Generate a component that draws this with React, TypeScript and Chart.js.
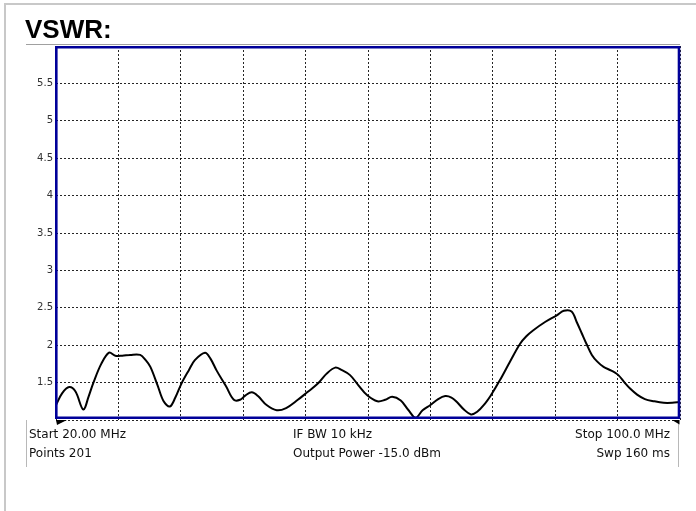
import React, { useEffect, useRef } from "react";
import { Chart, registerables } from "chart.js";

Chart.register(...registerables);

const freqMHz = [
  20.0, 20.8, 21.7, 22.5, 23.5, 24.2, 24.8, 25.8, 26.8, 27.6, 28.5, 29.5, 30.8, 31.5, 32.1, 33.0,
  33.8, 34.6, 35.3, 36.1, 37.0, 37.8, 39.1, 39.8, 40.6, 41.8, 42.8, 43.6, 44.3, 45.1, 45.9, 47.0,
  48.3, 49.5, 51.0, 52.2, 53.5, 54.7, 55.8, 56.6, 57.7, 58.8, 59.9, 61.2, 62.2, 63.1, 64.2, 65.2,
  66.1, 67.0, 68.0, 69.0, 69.9, 70.7, 71.4, 72.3, 73.2, 74.0, 75.0, 75.7, 76.9, 78.2, 79.5, 80.3,
  81.2, 82.7, 84.2, 85.1, 86.1, 86.8, 87.4, 88.0, 88.7, 89.4, 90.2, 91.2, 92.1, 92.9, 93.6, 94.5,
  95.5, 96.7, 97.9, 99.0, 100.0,
];

const vswr = [
  1.2, 1.36, 1.44, 1.38, 1.14, 1.32, 1.5, 1.75, 1.9, 1.86, 1.86, 1.87, 1.87, 1.8, 1.71, 1.47,
  1.25, 1.18, 1.3, 1.49, 1.66, 1.8, 1.9, 1.82, 1.66, 1.45, 1.27, 1.27, 1.33, 1.37, 1.32, 1.2,
  1.13, 1.16, 1.27, 1.37, 1.48, 1.62, 1.7, 1.67, 1.6, 1.46, 1.33, 1.25, 1.27, 1.31, 1.26, 1.13,
  1.03, 1.13, 1.2, 1.28, 1.32, 1.3, 1.24, 1.14, 1.075, 1.11, 1.22, 1.32, 1.53, 1.78, 2.02, 2.12,
  2.2, 2.31, 2.4, 2.46, 2.45, 2.3, 2.16, 2.02, 1.87, 1.78, 1.71, 1.66, 1.6, 1.5, 1.42, 1.34,
  1.28, 1.25, 1.23, 1.23, 1.24,
];

const titleText = "VSWR:";
const infoLeft = ["Start 20.00 MHz", "Points 201"];
const infoMid = ["IF BW 10 kHz", "Output Power -15.0 dBm"];
const infoRight = ["Stop 100.0 MHz", "Swp 160 ms"];

const decorPlugin = {
  id: "decor",
  beforeDraw(chart: any) {
    const ctx = chart.ctx;
    const a = chart.chartArea;
    ctx.save();
    ctx.fillStyle = "#ffffff";
    ctx.fillRect(0, 0, chart.width, chart.height);
    // outer frame
    ctx.strokeStyle = "#c8c8c8";
    ctx.lineWidth = 2;
    ctx.beginPath();
    ctx.moveTo(5, 511);
    ctx.lineTo(5, 4);
    ctx.lineTo(696, 4);
    ctx.stroke();
    // title
    ctx.fillStyle = "#000";
    ctx.font = "bold 26px 'Liberation Sans', Arial, sans-serif";
    ctx.textBaseline = "alphabetic";
    ctx.textAlign = "left";
    ctx.fillText(titleText, 25, 38);
    // underline
    ctx.strokeStyle = "#a0a0a0";
    ctx.lineWidth = 1;
    ctx.beginPath();
    ctx.moveTo(26, 44.5);
    ctx.lineTo(a.right, 44.5);
    ctx.stroke();
    // info box sides
    ctx.strokeStyle = "#b8b8b8";
    ctx.lineWidth = 1;
    ctx.beginPath();
    ctx.moveTo(26.5, a.bottom);
    ctx.lineTo(26.5, 467);
    ctx.moveTo(678.5, a.bottom);
    ctx.lineTo(678.5, 467);
    ctx.stroke();
    ctx.restore();
  },
  afterDraw(chart: any) {
    const ctx = chart.ctx;
    const a = chart.chartArea;
    ctx.save();
    // plot border
    ctx.strokeStyle = "#000099";
    ctx.lineWidth = 2.6;
    ctx.beginPath();
    ctx.moveTo(a.left + 0.3, a.top + 1.3);
    ctx.lineTo(a.right - 1.0, a.top + 1.3);
    ctx.lineTo(a.right - 1.0, a.bottom - 2.3);
    ctx.lineTo(a.left + 0.3, a.bottom - 2.3);
    ctx.closePath();
    ctx.stroke();
    // triangles
    ctx.fillStyle = "#000";
    ctx.beginPath();
    ctx.moveTo(56, a.bottom);
    ctx.lineTo(67, a.bottom);
    ctx.lineTo(57, a.bottom + 5);
    ctx.closePath();
    ctx.fill();
    ctx.beginPath();
    ctx.moveTo(672, a.bottom);
    ctx.lineTo(679.5, a.bottom);
    ctx.lineTo(679.5, a.bottom + 4.5);
    ctx.closePath();
    ctx.fill();
    // info texts
    ctx.fillStyle = "#111";
    ctx.font = "12px 'DejaVu Sans', sans-serif";
    ctx.textBaseline = "alphabetic";
    const ys = [437.5, 456.5];
    ctx.textAlign = "left";
    infoLeft.forEach((t, i) => ctx.fillText(t, 29, ys[i]));
    infoMid.forEach((t, i) => ctx.fillText(t, 293, ys[i]));
    ctx.textAlign = "right";
    infoRight.forEach((t, i) => ctx.fillText(t, 670, ys[i]));
    ctx.restore();
  },
};

export default function App() {
  const ref = useRef<HTMLCanvasElement | null>(null);
  useEffect(() => {
    if (!ref.current) return;
    const chart = new Chart(ref.current, {
      type: "line",
      data: {
        datasets: [
          {
            data: freqMHz.map((f, i) => ({ x: f, y: vswr[i] })),
            borderColor: "#000",
            borderWidth: 2,
            pointRadius: 0,
            tension: 0.35,
            fill: false,
          },
        ],
      },
      options: {
        animation: false,
        responsive: false,
        events: [],
        layout: { padding: { left: 0, top: 46, right: 16, bottom: 91 } },
        plugins: { legend: { display: false }, tooltip: { enabled: false }, title: { display: false } },
        scales: {
          x: {
            type: "linear",
            min: 20,
            max: 100,
            ticks: { display: false, stepSize: 8 },
            grid: { color: "rgba(0,0,0,0.85)", lineWidth: 1, drawTicks: false },
            border: { display: false, dash: [2, 2] },
            afterFit: (s: any) => {
              s.height = 0;
            },
          },
          y: {
            type: "linear",
            min: 1,
            max: 6,
            ticks: {
              stepSize: 0.5,
              padding: 3,
              color: "#333",
              font: { family: "'DejaVu Sans', sans-serif", size: 10 },
              callback: (v: any) => (v === 1 || v === 6 ? "" : String(v)),
            },
            grid: { color: "rgba(0,0,0,0.85)", lineWidth: 1, drawTicks: false },
            border: { display: false, dash: [2, 2] },
            afterFit: (s: any) => {
              s.width = 56;
            },
          },
        },
      },
      plugins: [decorPlugin],
    });
    return () => chart.destroy();
  }, []);
  return (
    <div style={{ position: "fixed", left: 0, top: 0, width: 696, height: 511, background: "#fff" }}>
      <canvas ref={ref} width={696} height={511} style={{ display: "block" }} />
    </div>
  );
}
